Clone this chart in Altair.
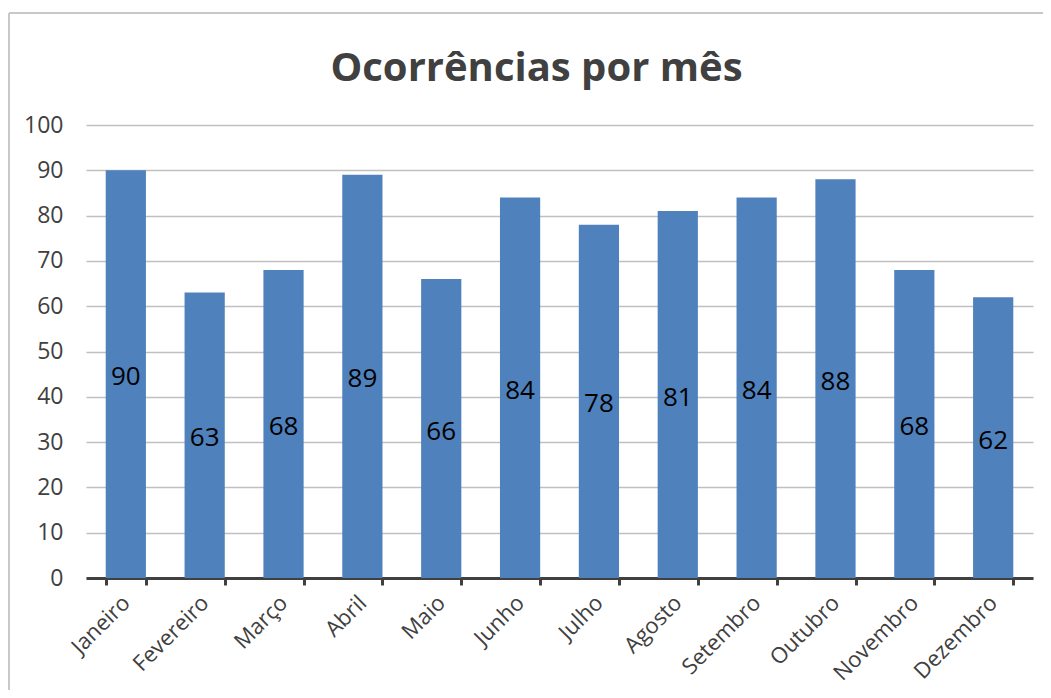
import altair as alt
import pandas as pd

meses = ["Janeiro", "Fevereiro", "Março", "Abril", "Maio", "Junho",
         "Julho", "Agosto", "Setembro", "Outubro", "Novembro", "Dezembro"]
ocorrencias = [90, 63, 68, 89, 66, 84, 78, 81, 84, 88, 68, 62]
y_ticks = [0, 10, 20, 30, 40, 50, 60, 70, 80, 90, 100]

df = pd.DataFrame({"mes": meses, "valor": ocorrencias})
df["meio"] = df["valor"] / 2

x_enc = alt.X("mes:N", sort=meses, title=None,
              scale=alt.Scale(paddingInner=0.49, paddingOuter=0.25),
              axis=alt.Axis(labelAngle=-45, labelAlign="right", labelBaseline="middle",
                            labelFontSize=22, labelColor="#404040", labelFont="Open Sans",
                            labelPadding=14, labelOffset=0,
                            domainColor="#404040", domainWidth=3,
                            tickColor="#404040", tickWidth=3, tickSize=7,
                            tickBand="extent", grid=False))

bars = alt.Chart(df).mark_bar(color="#4f81bd").encode(
    x=x_enc,
    y=alt.Y("valor:Q", title=None,
            scale=alt.Scale(domain=[0, 100]),
            axis=alt.Axis(values=y_ticks, labelFontSize=23, labelColor="#404040",
                          labelFont="Open Sans", labelPadding=23, domain=False, ticks=False,
                          gridColor="#c0c0c0", gridWidth=1.5)),
)

labels = alt.Chart(df).mark_text(fontSize=26, color="black", font="Open Sans",
                                 baseline="middle", dy=3).encode(
    x=alt.X("mes:N", sort=meses),
    y=alt.Y("meio:Q"),
    text=alt.Text("valor:Q"),
)

border_top = alt.Chart(df).mark_rule(color="#c8c8c8", strokeWidth=2).encode(
    x=alt.value(-77), x2=alt.value(1100), y=alt.value(-112))
border_left = alt.Chart(df).mark_rule(color="#c8c8c8", strokeWidth=2).encode(
    x=alt.value(-77), y=alt.value(-112), y2=alt.value(600))

chart = alt.layer(border_top, border_left, bars, labels).properties(
    width=947, height=453,
    autosize=alt.AutoSizeParams(type="none"),
    padding={"left": 78, "top": 117, "right": 10, "bottom": 112},
    title=alt.TitleParams("Ocorrências por mês", fontSize=40, fontWeight="bold",
                          color="#404040", font="Open Sans", anchor="middle",
                          dx=-23, offset=0, dy=77),
).configure_view(stroke=None)

chart.save("out.html", embed_options={"renderer": "svg", "actions": False})
